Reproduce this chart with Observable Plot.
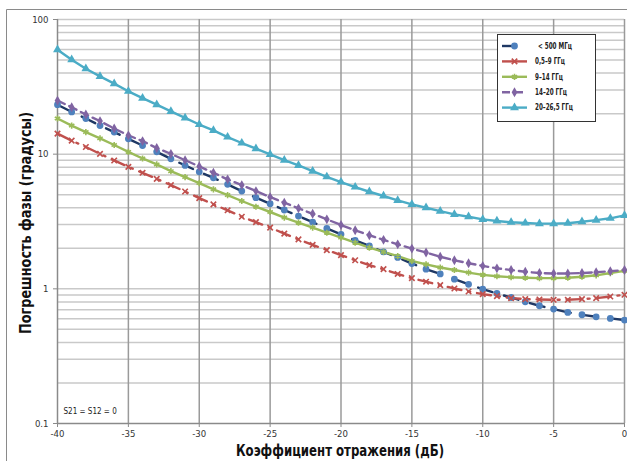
<!DOCTYPE html>
<html>
<head>
<meta charset="utf-8">
<script src="https://cdn.jsdelivr.net/npm/d3@7"></script>
<script src="https://cdn.jsdelivr.net/npm/@observablehq/plot@0.6"></script>
<style>
  html, body { margin: 0; padding: 0; background: #fff; }
  #chart { position: relative; width: 627px; height: 461px; }
</style>
</head>
<body>
<div id="chart"></div>
<script>
const FONT = '"Liberation Sans Narrow", "DejaVu Sans Condensed", "Arial Narrow", "Liberation Sans", sans-serif';

// x categories: reflection coefficient (dB)
const dB = [-40,-39,-38,-37,-36,-35,-34,-33,-32,-31,-30,-29,-28,-27,-26,-25,-24,-23,-22,-21,-20,
            -19,-18,-17,-16,-15,-14,-13,-12,-11,-10,-9,-8,-7,-6,-5,-4,-3,-2,-1,0];

// series values: phase error (degrees)
const s500MHz = [23.3,20.6,18.4,16.3,14.6,13.0,11.6,10.4,9.23,8.25,7.39,6.67,5.97,5.32,4.75,4.29,3.85,3.47,3.13,2.81,2.54,
                 2.29,2.08,1.88,1.71,1.54,1.40,1.29,1.18,1.08,0.995,0.923,0.862,0.802,0.749,0.707,0.668,0.642,0.620,0.603,0.586];
const s05_9 = [14.2,12.6,11.3,10.05,8.98,8.05,7.27,6.56,5.89,5.28,4.72,4.24,3.83,3.43,3.13,2.85,2.57,2.33,2.12,1.94,1.78,
               1.63,1.50,1.40,1.29,1.20,1.13,1.065,1.005,0.955,0.914,0.883,0.853,0.839,0.834,0.829,0.829,0.839,0.853,0.877,0.903];
const s9_14 = [18.4,16.3,14.6,13.1,11.7,10.4,9.29,8.39,7.48,6.76,6.10,5.48,4.97,4.49,4.07,3.72,3.38,3.10,2.85,2.61,2.40,
               2.20,2.02,1.88,1.75,1.61,1.52,1.44,1.38,1.32,1.27,1.24,1.22,1.21,1.20,1.20,1.21,1.23,1.26,1.31,1.36];
const s14_20 = [25.0,22.3,19.7,17.6,15.5,13.8,12.5,11.1,10.05,9.03,8.11,7.27,6.50,5.89,5.32,4.80,4.36,3.96,3.61,3.28,2.98,
                2.72,2.50,2.31,2.14,1.99,1.86,1.73,1.63,1.55,1.48,1.42,1.38,1.34,1.31,1.30,1.30,1.31,1.33,1.35,1.38];
const s20_265 = [59.7,50.3,43.1,37.8,33.4,29.3,26.1,23.3,20.8,18.6,16.6,15.0,13.4,12.1,11.0,9.95,9.03,8.25,7.48,6.79,6.21,
                 5.70,5.26,4.89,4.54,4.24,4.00,3.78,3.57,3.43,3.28,3.19,3.12,3.08,3.05,3.05,3.07,3.15,3.24,3.34,3.51];

const seriesNames = ["< 500 МГц", "0,5–9 ГГц", "9–14 ГГц", "14–20 ГГц", "20–26,5 ГГц"];

// ticks / grid
const xTicks = [-40,-35,-30,-25,-20,-15,-10,-5,0];
const xGrid = [-35,-30,-25,-20,-15,-10,-5,0];
const yTicks = [0.1, 1, 10, 100];
const yTickLabels = ["0.1", "1", "10", "100"];
const yGrid = [0.2,0.3,0.4,0.5,0.6,0.7,0.8,0.9,1,2,3,4,5,6,7,8,9,10,20,30,40,50,60,70,80,90,100];

const xTitle = "Коэффициент отражения (дБ)";
const yTitle = "Погрешность фазы (градусы)";
const note = "S21 = S12 = 0";

// styles per series
const styles = [
  {line: "#1f3864", dash: "15,12", lgDash: "15,12", marker: "circle", fill: "#4f81bd", stroke: "none", r: 3.4, tl: 34},
  {line: "#c0504d", dash: "14,7,2,7", lgDash: null, marker: "times", fill: "none", stroke: "#c0504d", r: 2.6, tl: 30},
  {line: "#9bbb59", dash: null, lgDash: null, marker: "asterisk", fill: "none", stroke: "#9bbb59", r: 2.9, tl: 28},
  {line: "#8064a2", dash: "8,5", lgDash: "8,5", marker: "diamond", fill: "#8064a2", stroke: "none", r: 3.0, tl: 32},
  {line: "#4bacc6", dash: null, lgDash: null, marker: "triangle", fill: "#4bacc6", stroke: "none", r: 3.3, tl: 38}
];
const values = [s500MHz, s05_9, s9_14, s14_20, s20_265];
const tables = values.map(vals => dB.map((x, i) => ({x, y: vals[i]})));

const marks = [
  Plot.ruleY(yGrid, {stroke: "#c9c9c9", strokeWidth: 1.5}),
  Plot.ruleX(xGrid, {stroke: "#9a9a9a", strokeWidth: 1.5}),
  Plot.ruleX([-40], {stroke: "#8a8a8a", strokeWidth: 1.5}),
  Plot.ruleY([0.1], {stroke: "#8a8a8a", strokeWidth: 1.5}),
  Plot.axisX(xTicks, {tickSize: 4, tickPadding: 3, stroke: "#8a8a8a", fill: "#333", fontSize: 9.5, tickFormat: d => String(d), label: null}),
  Plot.axisY(yTicks, {tickSize: 4, tickPadding: 5, stroke: "#8a8a8a", fill: "#333", fontSize: 9.5, tickFormat: d => yTickLabels[yTicks.indexOf(d)], label: null})
];
tables.forEach((t, k) => {
  const s = styles[k];
  marks.push(Plot.line(t, {x: "x", y: "y", stroke: s.line, strokeWidth: 2.4, strokeDasharray: s.dash || undefined}));
});
tables.forEach((t, k) => {
  const s = styles[k];
  marks.push(Plot.dot(t, {x: "x", y: "y", symbol: () => s.marker, r: s.r, fill: s.fill, stroke: s.stroke, strokeWidth: 1.6}));
});
marks.push(Plot.text([note], {x: -40, y: 0.1, text: d => d, dx: 6, dy: -12, textAnchor: "start", fontSize: 8, fill: "#222"}));

const plot = Plot.plot({
  width: 627, height: 461,
  marginLeft: 57, marginRight: 3, marginTop: 19, marginBottom: 38,
  style: {fontFamily: FONT, background: "#fff", color: "#222"},
  x: {domain: [-40, 0], axis: null},
  y: {type: "log", domain: [0.1, 100], axis: null},
  symbol: {type: "identity"},
  marks
});
document.getElementById("chart").appendChild(plot);

// decorations: outer border, axis titles, legend
const svg = d3.select(plot);
svg.append("path").attr("d", "M6.5,470 V9.5 H640").attr("fill", "none").attr("stroke", "#8a8a8a").attr("stroke-width", 1);
svg.append("text").attr("x", 340).attr("y", 456).attr("text-anchor", "middle")
  .attr("textLength", 208).attr("lengthAdjust", "spacingAndGlyphs")
  .attr("font-family", FONT).attr("font-size", 16).attr("font-weight", "bold").attr("fill", "#111").text(xTitle);
svg.append("text").attr("transform", "translate(31,223) rotate(-90)").attr("text-anchor", "middle")
  .attr("textLength", 222).attr("lengthAdjust", "spacingAndGlyphs")
  .attr("font-family", FONT).attr("font-size", 16).attr("font-weight", "bold").attr("fill", "#111").text(yTitle);

const lg = svg.append("g");
lg.append("rect").attr("x", 497.5).attr("y", 34.5).attr("width", 98).attr("height", 87)
  .attr("fill", "#fff").attr("stroke", "#333").attr("stroke-width", 1);
const symMap = {circle: d3.symbolCircle, times: d3.symbolTimes, asterisk: d3.symbolAsterisk, diamond: d3.symbolDiamond, triangle: d3.symbolTriangle};
seriesNames.forEach((name, k) => {
  const s = styles[k];
  const yy = 46 + k * 15.4;
  lg.append("line").attr("x1", 502).attr("x2", 527).attr("y1", yy).attr("y2", yy)
    .attr("stroke", s.line).attr("stroke-width", 2.4).attr("stroke-dasharray", s.lgDash || null);
  lg.append("path").attr("transform", `translate(514.5,${yy})`)
    .attr("d", d3.symbol(symMap[s.marker], Math.PI * s.r * s.r)())
    .attr("fill", s.fill).attr("stroke", s.stroke).attr("stroke-width", 1.6);
  lg.append("text").attr("x", k === 0 ? 538 : 535).attr("y", yy).attr("dy", "0.35em")
    .attr("text-anchor", "start").attr("textLength", s.tl).attr("lengthAdjust", "spacingAndGlyphs")
    .attr("font-family", FONT).attr("font-size", 8).attr("font-weight", "bold").attr("fill", "#222").text(name);
});
</script>
</body>
</html>
